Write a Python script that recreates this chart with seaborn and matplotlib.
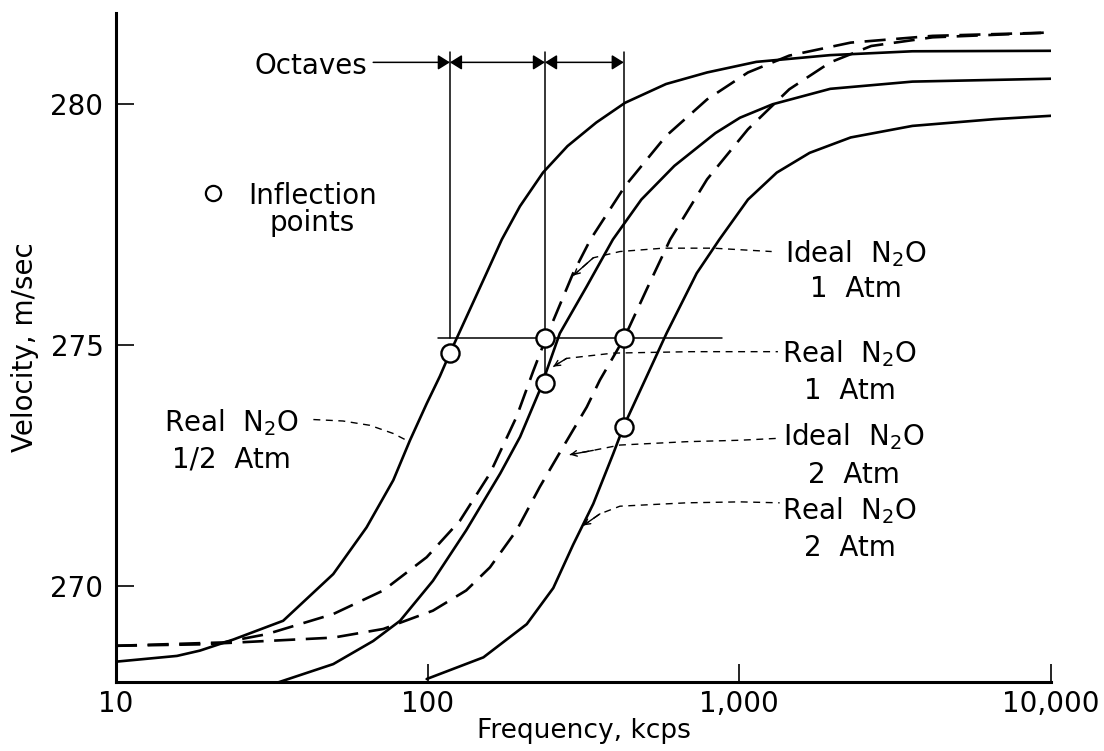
import numpy as np
import pandas as pd
import matplotlib.pyplot as plt
import seaborn as sns

# curves: frequency (kcps) and velocity (m/sec)
real_half_f = [10, 15.7, 18.6, 23.8, 34.4, 49.8, 63.7, 77.6, 87.8, 99.3, 109.5, 117.9, 154.5, 173, 197.8, 234.5, 281, 347.6, 430, 582, 788, 1134, 1958, 3593, 10000]
real_half_v = [268.42, 268.54, 268.65, 268.88, 269.27, 270.24, 271.21, 272.19, 273.02, 273.78, 274.35, 274.83, 276.49, 277.19, 277.88, 278.58, 279.13, 279.62, 280.03, 280.42, 280.66, 280.88, 281.02, 281.10, 281.11]

real_1_f = [32.8, 49.8, 66.9, 81.6, 104, 133, 171, 198, 229, 265.5, 323.6, 393, 485, 619, 838, 1005, 1280, 1958, 3593, 10000]
real_1_v = [267.98, 268.37, 268.85, 269.27, 270.10, 271.15, 272.33, 273.09, 274.06, 275.24, 276.21, 277.19, 278.02, 278.72, 279.40, 279.72, 280.0, 280.32, 280.47, 280.53]

real_2_f = [99.3, 151, 208, 253, 293, 340, 394, 425, 504, 584, 730, 863, 1066, 1319, 1681, 2277, 3593, 6577, 10000]
real_2_v = [268.06, 268.51, 269.20, 269.95, 270.85, 271.70, 272.74, 273.30, 274.34, 275.24, 276.49, 277.19, 278.02, 278.58, 278.99, 279.31, 279.55, 279.69, 279.76]

ideal_1_f = [10, 22.1, 30.4, 49.8, 72.1, 99.3, 127, 158.5, 193, 218, 239.6, 293, 333, 430, 582, 788, 1066, 1446, 2277, 4170, 10000]
ideal_1_v = [268.75, 268.82, 268.99, 269.41, 269.90, 270.59, 271.35, 272.33, 273.51, 274.45, 275.14, 276.49, 277.19, 278.30, 279.34, 280.10, 280.66, 281.01, 281.28, 281.42, 281.49]

ideal_2_f = [10, 18.6, 30.4, 49.8, 72.1, 104, 133, 158.5, 193, 229, 272, 324, 357, 427, 504, 600, 788, 1066, 1446, 1958, 2650, 4170, 10000]
ideal_2_v = [268.75, 268.78, 268.85, 268.92, 269.10, 269.48, 269.90, 270.38, 271.15, 272.05, 272.88, 273.71, 274.27, 275.14, 276.15, 277.19, 278.44, 279.48, 280.31, 280.87, 281.21, 281.39, 281.49]

# inflection points
infl_f = [117.9, 238, 238, 426, 426]
infl_v = [274.83, 275.14, 274.20, 275.14, 273.29]

# octave markers
oct_f = [117.9, 238, 426]
oct_bottom = [275.15, 274.20, 273.29]
oct_top = 281.08
oct_arrow_v = 280.87

# leader lines from labels to curves
lead_half_f = [43.0, 53.5, 65.3, 77.6, 86.7]
lead_half_v = [273.45, 273.42, 273.33, 273.16, 273.0]
lead_i1_f = [293, 340, 414, 570, 825, 1270]
lead_i1_v = [276.44, 276.81, 276.94, 277.01, 277.01, 276.94]
lead_r1_f = [253, 279, 394, 700, 1330]
lead_r1_v = [274.55, 274.72, 274.83, 274.86, 274.86]
lead_i2_f = [286, 340, 414, 677, 1005, 1334]
lead_i2_v = [272.72, 272.81, 272.92, 272.99, 273.02, 273.06]
lead_r2_f = [316, 357, 414, 677, 1005, 1347]
lead_r2_v = [271.25, 271.49, 271.65, 271.72, 271.74, 271.72]

xtick_vals = [10, 100, 1000, 10000]
xtick_labels = ['10', '100', '1,000', '10,000']
ytick_vals = [270, 275, 280]

curves = [('Real 1/2', 'Real', real_half_f, real_half_v),
          ('Real 1', 'Real', real_1_f, real_1_v),
          ('Real 2', 'Real', real_2_f, real_2_v),
          ('Ideal 1', 'Ideal', ideal_1_f, ideal_1_v),
          ('Ideal 2', 'Ideal', ideal_2_f, ideal_2_v)]
df = pd.concat([pd.DataFrame({'freq': f, 'vel': v, 'curve': name, 'kind': kind})
                for name, kind, f, v in curves], ignore_index=True)

sns.set_style('ticks')
plt.rcParams['font.family'] = ['DejaVu Sans']
plt.rcParams['mathtext.default'] = 'regular'
plt.rcParams['text.color'] = 'black'
plt.rcParams['axes.labelcolor'] = 'black'

FS = 20

fig = plt.figure(figsize=(11.04, 7.51), dpi=100)
ax = fig.add_axes([0.105, 0.092, 0.847, 0.891])
ax.set_xscale('log')

sns.lineplot(data=df, x='freq', y='vel', units='curve', estimator=None,
             style='kind', dashes={'Real': '', 'Ideal': (8, 4)},
             color='black', lw=1.9, legend=False, ax=ax)

# leader lines
leaders = [(lead_half_f, lead_half_v, False), (lead_i1_f, lead_i1_v, True),
           (lead_r1_f, lead_r1_v, True), (lead_i2_f, lead_i2_v, True),
           (lead_r2_f, lead_r2_v, True)]
for f, v, arrow in leaders:
    ax.plot(f, v, color='black', lw=1.0, linestyle=(0, (5, 4)))
    if arrow:
        ax.annotate('', xy=(f[0], v[0]), xytext=(f[1], v[1]),
                    arrowprops=dict(arrowstyle='->', color='black', lw=1.0,
                                    shrinkA=0, shrinkB=0, mutation_scale=10))

# octave construction
ax.plot([108, 877], [275.15, 275.15], color='black', lw=1.1)
for f, b in zip(oct_f, oct_bottom):
    ax.plot([f, f], [b, oct_top], color='black', lw=1.1)
arrow_kw = dict(color='black', lw=1.1, shrinkA=0, shrinkB=0, mutation_scale=18)
ax.annotate('', xy=(oct_f[0], oct_arrow_v), xytext=(66.9, oct_arrow_v),
            arrowprops=dict(arrowstyle='-|>,head_width=0.25', **arrow_kw))
for a, b in zip(oct_f[:-1], oct_f[1:]):
    ax.annotate('', xy=(b, oct_arrow_v), xytext=(a, oct_arrow_v),
                arrowprops=dict(arrowstyle='<|-|>,head_width=0.25', **arrow_kw))
ax.text(63.8, 280.63, 'Octaves', ha='right', va='baseline', fontsize=FS)

sns.scatterplot(x=infl_f, y=infl_v, s=170, color='white', edgecolor='black',
                linewidth=1.7, zorder=5, ax=ax)

# key
sns.scatterplot(x=[20.5], y=[278.16], s=120, color='white', edgecolor='black',
                linewidth=1.6, zorder=5, ax=ax)
ax.text(42.7, 278.39, 'Inflection\npoints', ha='center', va='top',
        multialignment='center', linespacing=0.95, fontsize=FS)

# curve labels
labels = [(23.5, 273.21, 272.46, 'Real  N$_2$O', '1/2  Atm'),
          (2360, 276.72, 275.99, 'Ideal  N$_2$O', '1  Atm'),
          (2260, 274.64, 273.87, 'Real  N$_2$O', '1  Atm'),
          (2330, 272.91, 272.14, 'Ideal  N$_2$O', '2  Atm'),
          (2260, 271.37, 270.61, 'Real  N$_2$O', '2  Atm')]
for f, v1, v2, t1, t2 in labels:
    ax.text(f, v1, t1, ha='center', va='baseline', fontsize=FS)
    ax.text(f, v2, t2, ha='center', va='baseline', fontsize=FS)

ax.set_xlim(10, 10000)
ax.set_ylim(268.0, 281.9)
ax.set_xticks(xtick_vals, labels=xtick_labels)
ax.xaxis.set_minor_locator(plt.NullLocator())
ax.set_yticks(ytick_vals)
ax.tick_params(direction='in', length=13, width=1.2, labelsize=FS, pad=9, colors='black')
ax.tick_params(axis='x', pad=6)
ax.set_xlabel('Frequency, kcps', fontsize=19, labelpad=0)
ax.set_ylabel('Velocity, m/sec', fontsize=FS, labelpad=8)
sns.despine(ax=ax)
for s in ['left', 'bottom']:
    ax.spines[s].set_linewidth(2.2)
    ax.spines[s].set_color('black')

fig.savefig('out.png', dpi=100)
